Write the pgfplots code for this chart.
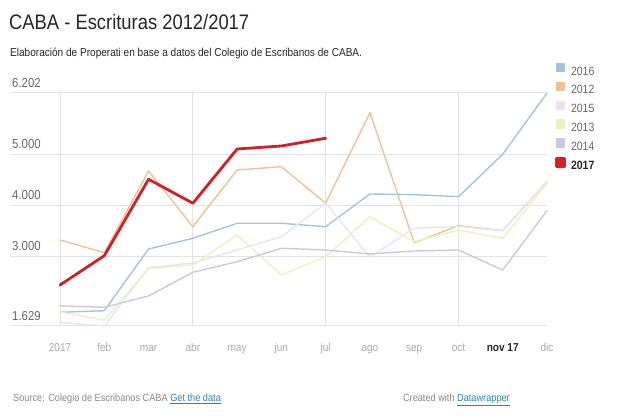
\documentclass[border=0pt]{standalone}
\usepackage{fontspec}
\setmainfont{Liberation Sans}[FakeStretch=0.875]
\usepackage{pgfplots}
\pgfplotsset{compat=1.18}

\definecolor{c2016}{HTML}{A3C4DB}
\definecolor{c2012}{HTML}{EFC196}
\definecolor{c2015}{HTML}{EEE0F2}
\definecolor{c2013}{HTML}{E6F5C0}
\definecolor{c2014}{HTML}{CCC7E0}
\definecolor{c2017}{HTML}{D32027}
\definecolor{gridc}{HTML}{E3E3E3}
\definecolor{ylab}{HTML}{666666}
\definecolor{xlab}{HTML}{AAAAAA}
\definecolor{foot}{HTML}{888888}
\definecolor{linkc}{HTML}{2A86AC}

\begin{document}
\begin{tikzpicture}[x=1pt,y=1pt]
\path[use as bounding box] (0,0) rectangle (619,-419);

% title block
\node[anchor=base west, inner sep=0, text=black!85, font=\fontsize{21}{25}\selectfont] at (9,-30) {CABA - Escrituras 2012/2017};
\node[anchor=base west, inner sep=0, text=black!85, font=\fontsize{11.5}{14}\selectfont] at (10,-57) {Elaboración de Properati en base a datos del Colegio de Escribanos de CABA.};

\begin{axis}[
    at={(10pt,-326pt)}, anchor=south west,
    scale only axis, width=537pt, height=233pt,
    clip=false,
    xmin=-1.13, xmax=11,
    ymin=1629, ymax=6202,
    axis line style={draw=none},
    tick style={draw=none},
    xtick={0,...,11},
    xticklabels={2017,feb,mar,abr,may,jun,jul,ago,sep,oct,{\textcolor{black!85}{\bfseries nov 17}},dic},
    xticklabel style={anchor=base, yshift=-26pt, text=xlab, font=\fontsize{11.5}{14}\selectfont},
    extra x ticks={0,3,6,9},
    extra x tick labels={},
    extra x tick style={grid=major, major grid style={gridc, line width=1pt}},
    ytick={1629,3000,4000,5000,6202},
    ymajorgrids,
    major grid style={gridc, line width=1pt},
    yticklabel style={anchor=south west, inner sep=0, xshift=2pt, yshift=5pt, text=ylab, font=\fontsize{13}{15}\selectfont},
    /pgf/number format/.cd, fixed, 1000 sep={.}, assume math mode=true,
    /pgfplots/.cd,
    every axis plot/.append style={line join=round, line cap=round},
    legend style={at={(1.015,1.13)}, anchor=north west, draw=none, fill=none,
        inner sep=0pt, row sep=6.6pt, column sep=5pt,
        font=\fontsize{12}{14}\selectfont, text=ylab,
        nodes={inner sep=0pt, text height=8pt, text depth=0pt}},
    legend cell align=left,
    legend image code/.code={\fill[#1] (0pt,-0.5pt) rectangle (8pt,7.5pt);},
]
\addplot[c2016, line width=1.4pt] coordinates {
 (0,1898) (1,1929) (2,3140) (3,3350) (4,3645) (5,3645)
 (6,3578) (7,4220) (8,4207) (9,4167) (10,5000) (11,6202)};
\addplot[c2012, line width=1.4pt] coordinates {
 (0,3317) (1,3068) (2,4672) (3,3578) (4,4691) (5,4756)
 (6,4038) (7,5816) (8,3264) (9,3598) (10,3500) (11,4462)};
\addplot[c2015, line width=1.4pt] coordinates {
 (0,1700) (1,1629) (2,2775) (3,2866) (4,3121) (5,3382)
 (6,4038) (7,2980) (8,3547) (9,3582) (10,3500) (11,4462)};
\addplot[c2013, line width=1.4pt] coordinates {
 (0,1904) (1,1747) (2,2762) (3,2826) (4,3415) (5,2630)
 (6,2990) (7,3774) (8,3286) (9,3513) (10,3349) (11,4430)};
\addplot[c2014, line width=1.4pt] coordinates {
 (0,2027) (1,1996) (2,2218) (3,2683) (4,2891) (5,3154)
 (6,3121) (7,3042) (8,3101) (9,3121) (10,2728) (11,3892)};
\addplot[c2017, line width=2.8pt] coordinates {
 (0,2434) (1,3009) (2,4509) (3,4038) (4,5103) (5,5162) (6,5314)};
\legend{2016,2012,2015,2013,2014,{\textcolor{black!85}{\bfseries 2017}}}
\end{axis}

% footer
\node[anchor=base west, inner sep=0, font=\fontsize{10.5}{13}\selectfont] at (13,-402)
  {\textcolor{foot}{Source: Colegio de Escribanos CABA} \textcolor{linkc}{\underline{Get the data}}};
\node[anchor=base east, inner sep=0, font=\fontsize{10.5}{13}\selectfont] at (510,-402)
  {\textcolor{foot}{Created with} \textcolor{linkc}{\underline{Datawrapper}}};
\end{tikzpicture}
\end{document}
